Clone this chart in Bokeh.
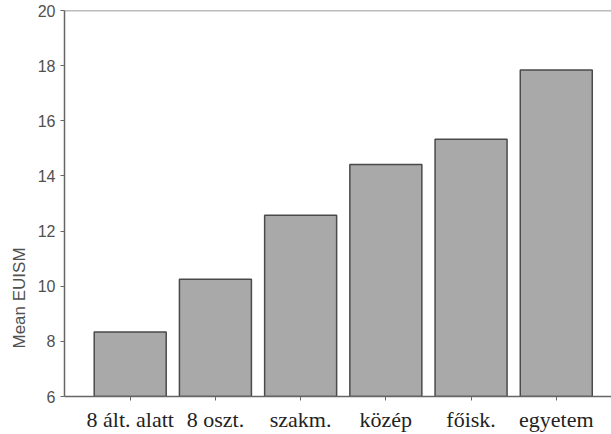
from bokeh.plotting import figure
from bokeh.models import ColumnDataSource, Range1d, FixedTicker, Span, Title
from bokeh.embed import file_html
from bokeh.resources import INLINE

categories = ["8 ált. alatt", "8 oszt.", "szakm.", "közép", "főisk.", "egyetem"]
values = [8.34, 10.25, 12.57, 14.41, 15.33, 17.84]
y_ticks = [6, 8, 10, 12, 14, 16, 18, 20]

positions = list(range(len(categories)))
src = ColumnDataSource(dict(x=positions, top=values, cat=categories))

p = figure(width=611, height=434, output_backend="svg", toolbar_location=None,
           x_range=Range1d(-0.771, 5.648), y_range=Range1d(6, 20),
           min_border_left=64, min_border_right=0, min_border_top=10, min_border_bottom=38)
p.outline_line_color = None
p.grid.visible = False
p.background_fill_color = "white"
p.border_fill_color = "white"

p.vbar(x="x", top="top", bottom=6, width=0.845, source=src,
       fill_color="#a9a9a9", line_color="#4a4a4a", line_width=1.5)

p.add_layout(Span(location=20, dimension="width", line_color="#777777", line_width=1.5))

ya = p.yaxis[0]
ya.ticker = FixedTicker(ticks=y_ticks)
ya.major_tick_out = 4
ya.major_tick_in = 0
ya.minor_tick_line_color = None
ya.axis_line_color = "#666666"
ya.axis_line_width = 1.5
ya.major_tick_line_color = "#666666"
ya.major_label_text_font = "Liberation Sans"
ya.major_label_text_font_size = "16px"
ya.major_label_text_color = "#505050"
ya.major_label_standoff = 5

xa = p.xaxis[0]
xa.ticker = FixedTicker(ticks=positions)
xa.major_label_overrides = {i: c for i, c in enumerate(categories)}
xa.major_tick_out = 4
xa.major_tick_in = 0
xa.minor_tick_line_color = None
xa.axis_line_color = "#666666"
xa.axis_line_width = 1.5
xa.major_tick_line_color = "#666666"
xa.major_label_text_font = "Liberation Serif"
xa.major_label_text_font_size = "22px"
xa.major_label_text_color = "#222222"
xa.major_label_standoff = 6

ylab = Title(text="Mean EUISM", align="left", offset=48, standoff=12,
             text_font="Liberation Sans", text_font_size="17px",
             text_font_style="normal", text_color="#505050")
p.add_layout(ylab, "left")

open("out.html", "w").write(file_html(p, INLINE))
